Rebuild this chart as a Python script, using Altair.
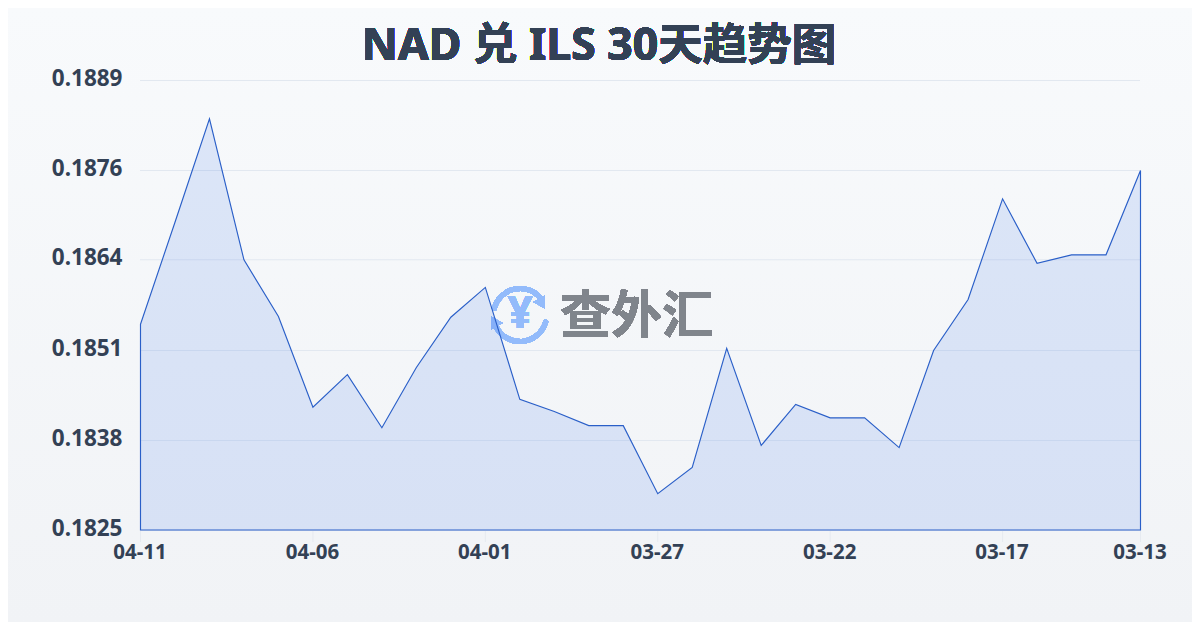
import altair as alt
import pandas as pd
import math

dates = ["04-11","04-10","04-09","04-08","04-07","04-06","04-05","04-04","04-03","04-02",
         "04-01","03-31","03-30","03-29","03-28","03-27","03-26","03-25","03-24","03-23",
         "03-22","03-21","03-20","03-19","03-18","03-17","03-16","03-15","03-14","03-13"]
rates = [0.18545,0.18689,0.18835,0.18636,0.18556,0.18428,0.18474,0.18399,0.18484,0.18555,
         0.18597,0.18439,0.18422,0.18402,0.18402,0.18306,0.18343,0.18511,0.18374,0.18432,
         0.18413,0.18413,0.18371,0.18508,0.18580,0.18722,0.18631,0.18643,0.18643,0.18762]
x_ticks = ["04-11","04-06","04-01","03-27","03-22","03-17","03-13"]
y_ticks = [0.18254,0.18381,0.18508,0.18636,0.18762,0.18889]
y_min, y_max = 0.18254, 0.18889
title_text = "NAD 兑 ILS 30天趋势图"

W, H, PL, PT = 1000, 450, 132, 72
df = pd.DataFrame({"date": dates, "rate": rates})
tick_df = pd.DataFrame({"date": x_ticks})
grid_df = pd.DataFrame({"rate": y_ticks})
TXT = "#334155"
SANS = "Noto Sans"
LOGO = "#93bbfb"

x_scale = alt.Scale(type="point", padding=0, domain=dates)
y_scale = alt.Scale(domain=[y_min, y_max], zero=False, nice=False)
x = alt.X("date:N", sort=dates, scale=x_scale, axis=None)
y_axis = alt.Axis(values=y_ticks, format=".4f", title=None, labelFont=SANS, labelFontSize=22.5,
                  labelFontWeight="bold", labelColor=TXT, labelPadding=18, labelOffset=-2,
                  domain=False, ticks=False, grid=False, zindex=1)
y = alt.Y("rate:Q", scale=y_scale, axis=y_axis)

bg = alt.Chart(df).mark_rect(
    fill=alt.Gradient(gradient="linear", x1=0, x2=0, y1=0, y2=1,
                      stops=[alt.GradientStop(offset=0, color="#f8fafc"),
                             alt.GradientStop(offset=1, color="#f1f3f6")])
).encode(x=alt.value(-PL), x2=alt.value(1052), y=alt.value(-PT), y2=alt.value(542))

grid = alt.Chart(grid_df).mark_rule(color="#e2e8f0", strokeWidth=1, yOffset=0.5).encode(y=y)

xtick = alt.Chart(tick_df).mark_rule(color="#e6eaf0", strokeWidth=1, xOffset=0.5).encode(
    x=alt.X("date:N", sort=dates, scale=x_scale, axis=None),
    y=alt.value(H), y2=alt.value(H + 12))

xlabel = alt.Chart(tick_df).mark_text(font=SANS, fontSize=20.5, fontWeight="bold", color=TXT,
                                      align="center", baseline="middle").encode(
    x=alt.X("date:N", sort=dates, scale=x_scale, axis=None),
    y=alt.value(553 - 80), text="date:N")

area = alt.Chart(df).mark_area(
    interpolate="linear", fill="#2563eb", fillOpacity=0.13, stroke="#2a5fc8", strokeWidth=1.15,
    xOffset=0.5, yOffset=0.5,
).encode(x=x, y=y, y2=alt.datum(y_min))

cx, cy = 520 - 140, 315 - 80
def arc(t0, t1):
    return alt.Chart(df).mark_arc(innerRadius=24, outerRadius=29, color=LOGO, cornerRadius=2,
                                  theta=math.radians(t0), theta2=math.radians(t1)
        ).encode(x=alt.value(cx), y=alt.value(cy))
arc1 = arc(280, 415)
arc2 = arc(100, 250)
head1 = alt.Chart(df).mark_point(shape="triangle", filled=True, size=170, color=LOGO, opacity=1, angle=150
        ).encode(x=alt.value(541 - 140), y=alt.value(302 - 80))
head2 = alt.Chart(df).mark_point(shape="triangle", filled=True, size=170, color=LOGO, opacity=1, angle=330
        ).encode(x=alt.value(495 - 140), y=alt.value(323 - 80))
yen = alt.Chart(df).mark_text(text="¥", font="Noto Sans", fontWeight="bold", fontSize=44, color=LOGO
        ).encode(x=alt.value(cx), y=alt.value(cy))
wm = alt.Chart(df).mark_text(text="查外汇", font="Noto Sans CJK SC", fontWeight="bold", fontSize=51,
        color="#80858c", align="left", baseline="middle"
        ).encode(x=alt.value(560 - 140), y=alt.value(318 - 80))
title = alt.Chart(df).mark_text(text=title_text, font="'Noto Sans','Noto Sans CJK SC'", fontSize=44.5, fontWeight="bold",
        color=TXT, align="center", baseline="middle"
        ).encode(x=alt.value(599 - 140), y=alt.value(47 - 80))

chart = alt.layer(bg, grid, xtick, arc1, arc2, head1, head2, yen, wm, area, xlabel, title).properties(
    width=W, height=H,
    padding={"left": PL, "top": PT, "right": 52, "bottom": 92},
    autosize=alt.AutoSizeParams(type="none"),
).configure_view(stroke=None).configure(background="#f8fafc")

chart.save("out.html", embed_options={"renderer": "svg", "actions": False})
